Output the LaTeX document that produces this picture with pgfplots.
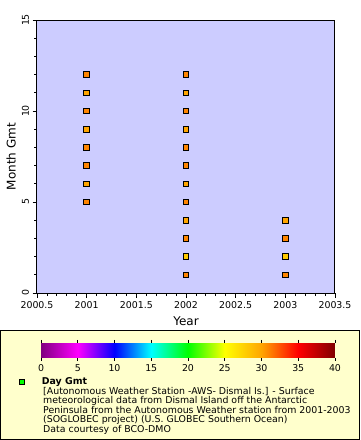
\documentclass[border=0pt]{standalone}
\usepackage{pgfplots}
\pgfplotsset{compat=1.18}
\usepackage{pgfplotstable}
\usepackage{fontspec}
\setmainfont{DejaVu Sans}
\definecolor{plotbg}{RGB}{204,204,255}
\definecolor{legbg}{RGB}{255,255,204}

\pgfplotstableread{
year month day
2001 5 31
2001 6 30
2001 7 31
2001 8 31
2001 9 30
2001 10 31
2001 11 30
2001 12 31
2002 1 31
2002 2 28
2002 3 31
2002 4 30
2002 5 31
2002 6 30
2002 7 31
2002 8 31
2002 9 30
2002 10 31
2002 11 30
2002 12 31
2003 1 31
2003 2 28
2003 3 31
2003 4 30
}\datatable

\begin{document}
\begin{tikzpicture}[x=1pt,y=1pt]
\useasboundingbox (0,0) rectangle (360,-440);
\draw[fill=legbg, line width=1pt] (0.5,-330.5) rectangle (359.5,-439.5);
\begin{axis}[
  at={(37pt,-293pt)}, anchor=south west,
  scale only axis, width=298pt, height=273pt,
  xmin=2000.5, xmax=2003.5, ymin=0, ymax=15,
  xtick={2000.5,2001,2001.5,2002,2002.5,2003,2003.5},
  xticklabels={2000.5,2001,2001.5,2002,2002.5,2003,2003.5},
  ytick={0,5,10,15},
  minor x tick num=4, minor y tick num=4,
  tick align=outside, tick pos=left,
  major tick length=4.5pt, minor tick length=3pt,
  every tick/.style={black, line width=0.8pt},
  axis line style={line width=1pt},
  axis background/.style={fill=plotbg},
  /pgf/number format/assume math mode=true,
  ticklabel style={font=\fontsize{9.4}{10}\selectfont},
  yticklabel style={rotate=90, anchor=south},
  xlabel={Year}, ylabel={Month Gmt},
  label style={font=\fontsize{12}{14}\selectfont},
  xlabel style={at={(axis description cs:0.5,-0.1026)}, anchor=center},
  ylabel style={at={(axis description cs:-0.087,0.5)}, anchor=center},
  colormap={dmo}{rgb255=(128,0,128) rgb255=(255,0,255) rgb255=(0,0,255) rgb255=(0,255,255) rgb255=(0,255,0) rgb255=(255,255,0) rgb255=(255,165,0) rgb255=(255,0,0) rgb255=(128,0,0)},
  point meta min=0, point meta max=40,
  colorbar horizontal,
  colorbar style={
    at={(0.0134,-0.183)}, anchor=north west,
    scale only axis, width=294pt, height=15pt,
    xtick={0,5,10,15,20,25,30,35,40},
    xticklabel pos=lower,
    xtick align=outside, major tick length=3pt,
    axis line style={draw=none},
    every tick/.style={black, line width=0.8pt},
    /pgf/number format/assume math mode=true,
    ticklabel style={font=\fontsize{9.4}{10}\selectfont},
  },
  legend style={at={(-0.0604,-0.326)}, anchor=west, draw=none, fill=none,
    inner sep=0pt, column sep=15pt, font=\fontsize{9.4}{10}\selectfont\bfseries},
  legend image code/.code={\draw[#1] plot coordinates {(3pt,0pt)};},
]
\addplot[scatter, only marks, mark=square*, mark size=2.8pt, forget plot,
  scatter src=explicit,
  scatter/use mapped color={draw=black, fill=mapped color},
  mark options={line width=0.8pt}]
  table[x=year, y=month, meta=day]{\datatable};
\addlegendimage{only marks, mark=square*, mark size=2.8pt, mark options={draw=black, fill=green, line width=0.8pt}}
\addlegendentry{Day Gmt}
\end{axis}
\node[anchor=north west, align=left, inner sep=0pt, font=\fontsize{9.4}{8.9}\selectfont] at (43,-387)
 {{[}Autonomous Weather Station -AWS- Dismal Is.{]} - Surface\\
  meteorological data from Dismal Island off the Antarctic\\
  Peninsula from the Autonomous Weather station from 2001-2003\\
  (SOGLOBEC project) (U.S. GLOBEC Southern Ocean)\\
  Data courtesy of BCO-DMO};
\end{tikzpicture}
\end{document}
